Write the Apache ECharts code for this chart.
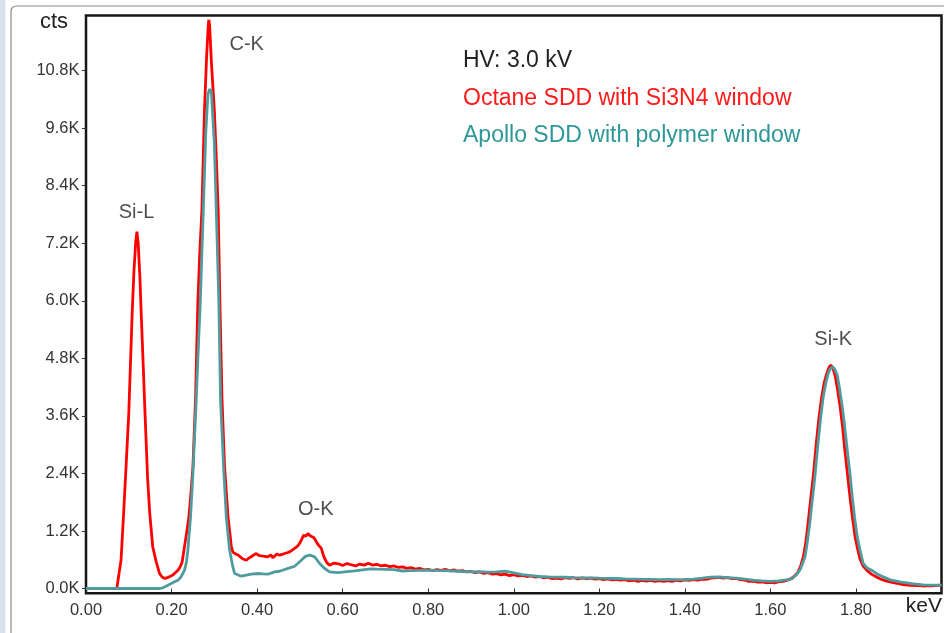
<!DOCTYPE html>
<html><head><meta charset="utf-8">
<script src="https://cdn.jsdelivr.net/npm/echarts@6/dist/echarts.min.js"></script>
<style>html,body{margin:0;padding:0;background:#fff}#c{width:944px;height:633px}</style>
</head><body><div id="c"></div>
<script>
// Octane SDD with Si3N4 window: [keV, counts]
const octaneSpectrum = [
[0,0],[0.03,0],[0.06,0],[0.072,0],[0.076,20],[0.082,600],[0.088,1570],[0.094,2600],[0.1,3650],[0.104,4700],[0.108,5750],[0.112,6600],[0.116,7200],[0.119,7440],[0.122,7200],[0.126,6500],[0.129,5750],[0.134,4600],[0.138,3650],[0.144,2300],[0.149,1570],[0.156,870],[0.164,560],[0.172,310],[0.178,240],[0.184,210],[0.19,225],[0.196,250],[0.203,280],[0.21,340],[0.215,380],[0.22,450],[0.225,560],[0.229,800],[0.235,1150],[0.2405,1494],[0.245,1950],[0.25,2540],[0.256,3930],[0.2615,5980],[0.266,7000],[0.271,7900],[0.277,9980],[0.282,11100],[0.2855,11700],[0.287,11860],[0.289,11750],[0.293,11000],[0.3,9980],[0.305,8900],[0.309,7900],[0.313,6000],[0.318,3930],[0.324,2540],[0.332,1494],[0.337,1100],[0.3396,880],[0.3434,760],[0.35,720],[0.355,700],[0.359,660],[0.366,620],[0.3747,590],[0.38,630],[0.3864,660],[0.392,700],[0.3981,730],[0.404,690],[0.4098,680],[0.418,670],[0.425,660],[0.432,700],[0.437,640],[0.441,626],[0.446,720],[0.4526,695],[0.458,710],[0.4643,730],[0.47,745],[0.476,764],[0.482,800],[0.4877,835],[0.494,880],[0.4994,939],[0.504,1020],[0.5088,1112],[0.514,1090],[0.5188,1148],[0.524,1100],[0.5282,1140],[0.533,1060],[0.5385,973],[0.544,900],[0.5502,835],[0.554,720],[0.5579,626],[0.563,540],[0.5696,486],
[0.58,530],[0.59,515],[0.6,480],[0.61,520],[0.62,495],[0.63,470],[0.64,510],[0.65,488],[0.66,525],[0.67,490],[0.68,505],[0.69,470],[0.7,485],[0.71,455],[0.72,470],[0.73,440],[0.74,450],[0.75,420],[0.76,435],[0.77,405],[0.78,420],[0.79,390],[0.8,400],[0.81,375],[0.82,395],[0.83,380],[0.84,400],[0.85,370],[0.86,390],[0.87,360],[0.88,375],[0.89,345],[0.9,355],[0.91,330],[0.92,345],[0.93,315],[0.94,330],[0.95,300],[0.96,310],[0.97,285],[0.98,300],[0.99,270],[1.0,290],[1.01,262],[1.02,275],[1.03,250],[1.04,262],[1.05,235],[1.06,250],[1.07,220],[1.08,238],[1.09,205],[1.1,215],[1.11,200],[1.12,228],[1.13,210],[1.14,225],[1.15,198],[1.16,220],[1.17,205],[1.18,218],[1.19,195],[1.2,205],[1.21,185],[1.22,200],[1.23,178],[1.24,192],[1.25,175],[1.26,185],[1.27,160],[1.28,172],[1.29,150],[1.3,168],[1.31,155],[1.32,170],[1.33,150],[1.34,165],[1.35,148],[1.36,165],[1.37,150],[1.38,172],[1.39,160],[1.4,178],[1.41,168],[1.42,185],[1.43,175],[1.44,195],[1.45,190],[1.46,215],[1.47,220],[1.48,232],[1.49,218],[1.5,225],[1.51,205],[1.52,210],[1.53,185],[1.54,175],[1.55,150],[1.56,155],[1.57,135],[1.58,140],[1.59,120],[1.6,128],[1.61,118],[1.62,145],[1.63,150],[1.64,175],
[1.65,215],[1.657,265],[1.665,347],[1.671,480],[1.677,660],[1.683,980],[1.688,1357],[1.694,1850],[1.7,2329],[1.708,3095],[1.714,3600],[1.72,3999],[1.726,4300],[1.732,4490],[1.737,4610],[1.741,4660],[1.746,4600],[1.751,4452],[1.757,4150],[1.763,3790],[1.769,3350],[1.774,2886],[1.78,2400],[1.786,1912],[1.792,1470],[1.798,1077],[1.804,820],[1.809,626],[1.816,480],[1.825,382],[1.836,300],[1.848,242],[1.86,190],[1.87,160],[1.88,138],[1.89,115],[1.9,100],[1.91,80],[1.92,72],[1.93,65],[1.94,60],[1.95,58],[1.96,52],[1.97,60],[1.98,55],[1.99,66],[2.0,68]
];
// Apollo SDD with polymer window: [keV, counts]
const apolloSpectrum = [
[0,0],[0.05,0],[0.1,0],[0.15,0],[0.17,0],[0.178,10],[0.1836,33],[0.19,60],[0.199,104],[0.207,140],[0.215,173],[0.222,240],[0.2304,382],[0.235,560],[0.2381,799],[0.2444,1494],[0.25,2400],[0.2535,3100],[0.257,3800],[0.262,4900],[0.2671,5948],[0.2742,7895],[0.28,9500],[0.285,10300],[0.2889,10414],[0.293,10360],[0.2967,10330],[0.3,9300],[0.3046,7895],[0.3106,5948],[0.3146,3930],[0.3216,2538],[0.328,1494],[0.3357,799],[0.3434,450],[0.3474,313],[0.3513,278],[0.363,257],[0.3747,280],[0.3864,298],[0.4019,313],[0.4136,305],[0.4253,298],[0.4409,347],[0.4526,360],[0.4643,396],[0.476,430],[0.4877,465],[0.5034,590],[0.5128,670],[0.5228,695],[0.5345,660],[0.5462,522],[0.5579,417],[0.5696,347],[0.589,330],[0.6047,347],[0.6281,368],[0.6515,396],[0.665,410],
[0.68,405],[0.7,400],[0.72,395],[0.74,365],[0.76,372],[0.78,380],[0.8,385],[0.82,378],[0.84,372],[0.86,365],[0.88,355],[0.9,347],[0.92,350],[0.94,340],[0.96,345],[0.98,360],[1.0,325],[1.02,290],[1.04,268],[1.06,250],[1.08,242],[1.1,238],[1.12,235],[1.14,228],[1.16,222],[1.18,222],[1.2,215],[1.22,212],[1.24,209],[1.26,200],[1.28,195],[1.3,190],[1.32,188],[1.34,185],[1.36,188],[1.38,186],[1.4,188],[1.42,195],[1.44,215],[1.46,238],[1.48,242],[1.5,229],[1.52,215],[1.54,195],[1.56,174],[1.58,160],[1.6,150],[1.62,160],[1.64,185],
[1.65,200],[1.66,280],[1.67,400],[1.681,660],[1.686,950],[1.692,1357],[1.698,1850],[1.704,2329],[1.712,3095],[1.718,3600],[1.7235,3999],[1.73,4300],[1.735,4487],[1.74,4580],[1.7455,4625],[1.75,4580],[1.7563,4452],[1.762,4150],[1.768,3790],[1.774,3350],[1.7797,2886],[1.786,2400],[1.7913,1912],[1.797,1470],[1.803,1077],[1.81,780],[1.817,522],[1.826,430],[1.8367,382],[1.85,300],[1.8639,242],[1.88,180],[1.9029,138],[1.93,100],[1.9574,75],[1.98,70],[2.0,69]
];
const peakNames = ['Si-L', 'C-K', 'O-K', 'Si-K'];
const peakKeV = [0.118, 0.3756, 0.537, 1.7468];
const peakCts = [7832, 11340, 1655, 5202];
const yTickValues = [0, 1200, 2400, 3600, 4800, 6000, 7200, 8400, 9600, 10800];
const xTickValues = [0, 0.2, 0.4, 0.6, 0.8, 1.0, 1.2, 1.4, 1.6, 1.8];
const infoLines = ['HV: 3.0 kV', 'Octane SDD with Si3N4 window', 'Apollo SDD with polymer window'];

const RED = '#ff0000', TEAL = '#4f9b9d';
const FONT = 'Liberation Sans';
const chart = echarts.init(document.getElementById('c'));
chart.setOption({
  animation: false,
  backgroundColor: '#fff',
  grid: { left: 86, right: 2.5, top: 15.5, bottom: 39.7, show: true, borderColor: '#161616', borderWidth: 2.5, backgroundColor: 'transparent' },
  xAxis: {
    type: 'value', min: 0, max: 2.0,
    axisLine: { show: false },
    splitLine: { show: false },
    axisTick: { show: true, length: 4, customValues: xTickValues, lineStyle: { color: '#333' } },
    axisLabel: { customValues: xTickValues, margin: 9, color: '#333', fontFamily: FONT, fontSize: 16.5,
      formatter: v => v.toFixed(2) }
  },
  yAxis: {
    type: 'value', min: -100, max: 11950,
    axisLine: { show: false },
    splitLine: { show: false },
    axisTick: { show: true, length: 4, customValues: yTickValues, lineStyle: { color: '#333' } },
    axisLabel: { customValues: yTickValues, margin: 6.5, color: '#333', fontFamily: FONT, fontSize: 16.5,
      formatter: v => (v / 1000).toFixed(1) + 'K' }
  },
  series: [
    { name: 'Octane', type: 'line', data: octaneSpectrum, showSymbol: false, smooth: false,
      lineStyle: { color: RED, width: 2.8 }, itemStyle: { color: RED }, z: 2 },
    { name: 'Apollo', type: 'line', data: apolloSpectrum, showSymbol: false, smooth: false,
      lineStyle: { color: TEAL, width: 2.8 }, itemStyle: { color: TEAL }, z: 3 },
    { name: 'peaks', type: 'scatter', silent: true, symbolSize: 1, itemStyle: { color: 'rgba(0,0,0,0)' },
      data: peakNames.map((n, i) => ({ name: n, value: [peakKeV[i], peakCts[i]] })),
      label: { show: true, position: 'inside', formatter: p => p.name, color: '#222', fontFamily: FONT, fontSize: 20 }, z: 4 }
  ],
  graphic: [
    { type: 'rect', shape: { x: 0, y: 0, width: 5.5, height: 633 }, style: { fill: '#dbe2ee' }, silent: true },
    { type: 'rect', shape: { x: 11, y: 6, width: 980, height: 700, r: 5 }, style: { fill: 'none', stroke: '#8a8a8a', lineWidth: 1.2 }, silent: true, z: -1 },
    { type: 'text', left: 40, top: 11, style: { text: 'cts', fill: '#222', font: '22px "Liberation Sans"' } },
    { type: 'text', right: 2, top: 596, style: { text: 'keV', fill: '#222', font: '21px "Liberation Sans"' } },
    { type: 'text', x: 463, y: 61, style: { text: infoLines[0], fill: '#222', font: '23px "Liberation Sans"', textVerticalAlign: 'middle' } },
    { type: 'text', x: 463, y: 99, style: { text: infoLines[1], fill: '#ff1a1a', font: '23px "Liberation Sans"', textVerticalAlign: 'middle' } },
    { type: 'text', x: 463, y: 136, style: { text: infoLines[2], fill: '#2e9797', font: '23px "Liberation Sans"', textVerticalAlign: 'middle' } }
  ]
});
</script>
</body></html>
